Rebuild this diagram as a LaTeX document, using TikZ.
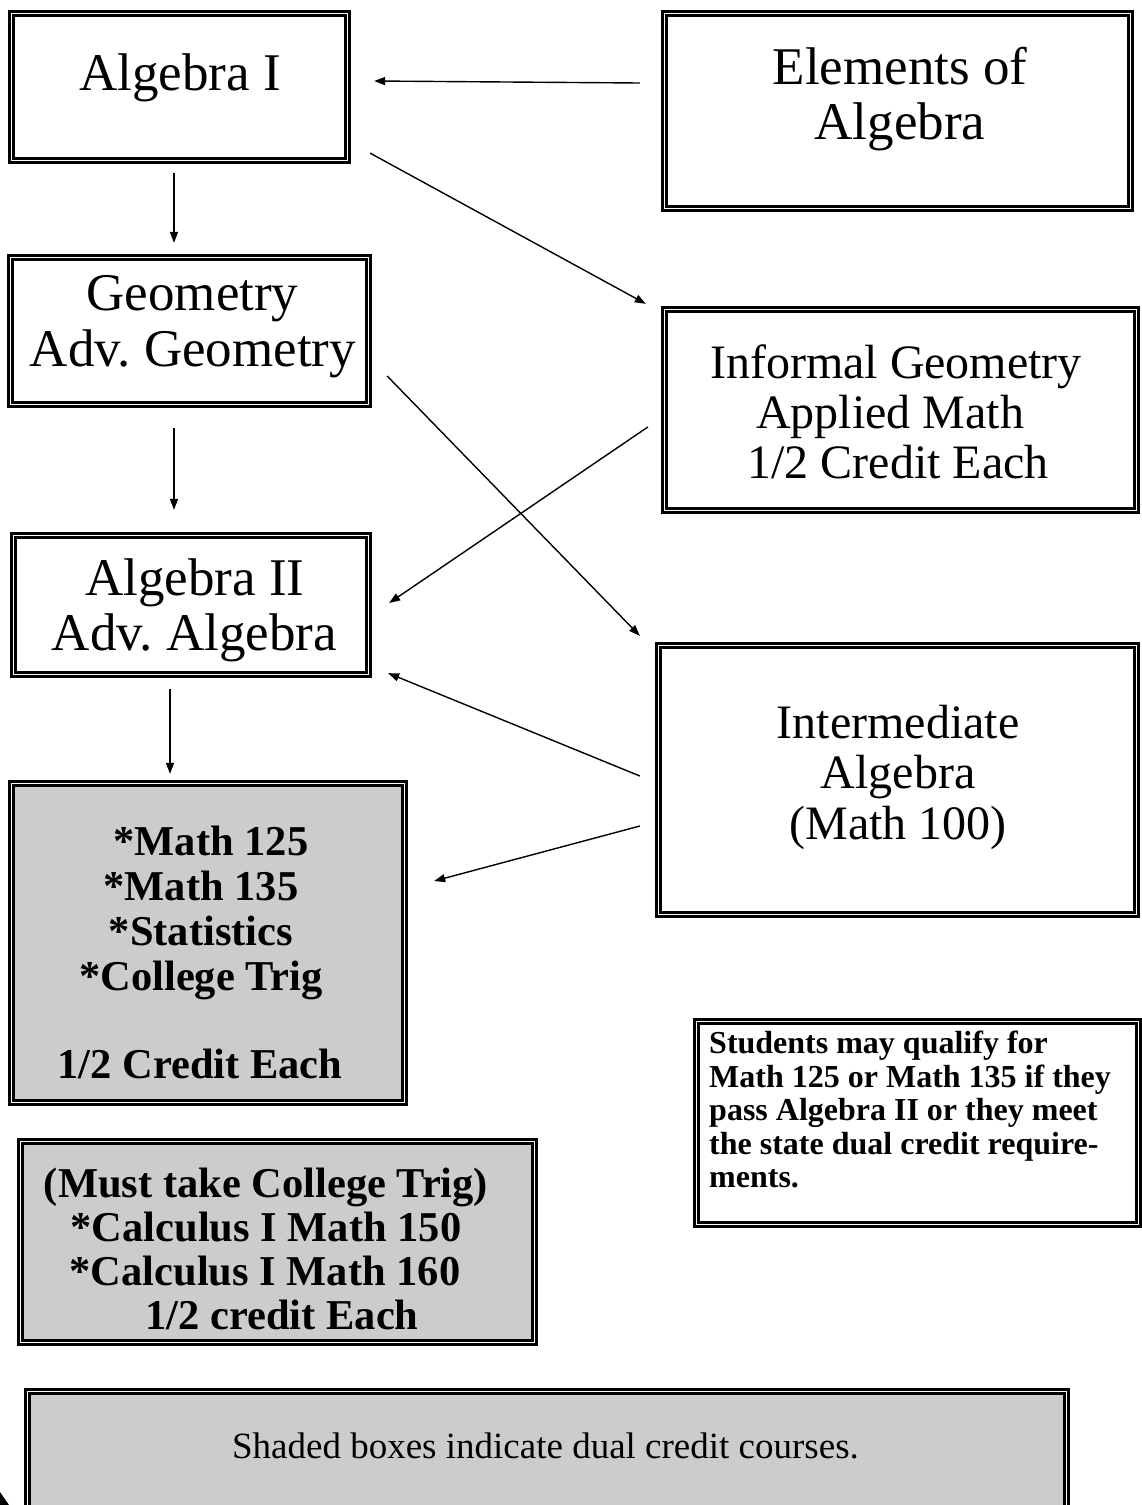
\documentclass[tikz,border=0pt]{standalone}
\usepackage{fontspec}
\setmainfont{Liberation Serif}
\usetikzlibrary{arrows.meta,calc}
\definecolor{shade}{HTML}{CCCCCC}
\tikzset{
  box/.style={draw=black, line width=2.3pt, double=white, double distance=1.8pt, inner sep=0pt, rectangle},
  shadedbox/.style={box, fill=shade},
  arr/.style={line width=1.4pt, -{Triangle[length=11pt,width=8pt]}},
  big/.style={font=\fontsize{53}{57}\selectfont, anchor=base, inner sep=0pt},
  mid/.style={font=\fontsize{48}{50}\selectfont, anchor=base, inner sep=0pt},
  bold/.style={font=\fontsize{42.5}{45}\selectfont\bfseries, anchor=base, inner sep=0pt},
  boldc/.style={font=\fontsize{42.5}{44}\selectfont\bfseries, anchor=base, inner sep=0pt},
  note/.style={font=\fontsize{32}{33}\selectfont\bfseries, anchor=base west, inner sep=0pt},
  legend/.style={font=\fontsize{37}{40}\selectfont, anchor=base, inner sep=0pt},
}
\begin{document}
\begin{tikzpicture}[x=1pt,y=-1pt]
\useasboundingbox (0,0) rectangle (1142,1505);
% boxes
\node[box, minimum width=336, minimum height=147] (alg1) at (179.5,87) {};
\node[box, minimum width=466, minimum height=195] (elem) at (897.5,111) {};
\node[box, minimum width=358, minimum height=147] (geom) at (189.5,331) {};
\node[box, minimum width=472, minimum height=201] (infgeom) at (900.5,410) {};
\node[box, minimum width=355, minimum height=139] (alg2) at (191,605) {};
\node[box, minimum width=478, minimum height=269] (interm) at (897.5,780) {};
\node[shadedbox, minimum width=393, minimum height=319] (m125) at (208,943) {};
\node[shadedbox, minimum width=514, minimum height=201] (calc) at (277.5,1242) {};
\node[box, minimum width=442, minimum height=203] (stud) at (917.5,1123) {};
\node[shadedbox, minimum width=1039, minimum height=135] (shaded) at (547,1459) {};
% texts
\node[big] (t1) at (180,90) {Algebra I};
\node[big] (t2a) at (900,84) {Elements of};
\node[big] (t2b) at (900,139) {Algebra};
\node[big] (t3a) at (192.5,310) {Geometry};
\node[big] (t3b) at (193,366) {Adv.\ Geometry};
\node[mid] (t4a) at (896,378) {Informal Geometry};
\node[mid] (t4b) at (890,428) {Applied Math};
\node[mid] (t4c) at (898,478) {1/2 Credit Each};
\node[big] (t5a) at (195,595) {Algebra II};
\node[big] (t5b) at (194.5,650) {Adv.\ Algebra};
\node[mid] (t6a) at (898,738) {Intermediate};
\node[mid] (t6b) at (898,788) {Algebra};
\node[mid] (t6c) at (898,839) {(Math 100)};
\node[bold] (t7a) at (211,855) {*Math 125};
\node[bold] (t7b) at (201,900) {*Math 135};
\node[bold] (t7c) at (201,945) {*Statistics};
\node[bold] (t7d) at (201,990) {*College Trig};
\node[bold] (t7e) at (200,1078) {1/2 Credit Each};
\node[boldc] (t8a) at (266,1197) {(Must take College Trig)};
\node[boldc] (t8b) at (266,1241) {*Calculus I Math 150};
\node[boldc] (t8c) at (265,1285) {*Calculus I Math 160};
\node[boldc] (t8d) at (282,1329) {1/2 credit Each};
\node[note] (t9a) at (709,1053) {Students may qualify for};
\node[note] (t9b) at (709,1087) {Math 125 or Math 135 if they};
\node[note] (t9c) at (709,1120) {pass Algebra II or they meet};
\node[note] (t9d) at (709,1154) {the state dual credit require-};
\node[note] (t9e) at (709,1187) {ments.};
\node[legend] (t10) at (545.5,1458) {Shaded boxes indicate dual credit courses.};
% connectors
\draw[arr] ($(elem.west)+(-23.5,-28)$) -- ($(alg1.east)+(25.5,-6)$);
\draw[arr] ($(alg1.south east)+(21.5,-8.5)$) -- ($(infgeom.north west)+(-17.5,-4.5)$);
\draw[arr] ($(alg1.south)+(-5.5,11.5)$) -- ($(geom.north)+(-15.5,-13.5)$);
\draw[arr] ($(geom.south)+(-15.5,22.5)$) -- ($(alg2.north)+(-17,-24.5)$);
\draw[arr] ($(geom.east)+(17.5,45)$) -- ($(interm.north west)+(-17.5,-8.5)$);
\draw[arr] ($(infgeom.west)+(-15.5,17)$) -- ($(alg2.east)+(19.5,-2)$);
\draw[arr] ($(interm.west)+(-17.5,-4)$) -- ($(alg2.south east)+(18.5,-2.5)$);
\draw[arr] ($(alg2.south)+(-21,13.5)$) -- ($(m125.north)+(-38,-8.5)$);
\draw[arr] ($(interm.west)+(-17.5,46)$) -- ($(m125.east)+(28.5,-62)$);
% corner mark
\fill[black] (0,1492) -- (9,1505) -- (0,1505) -- cycle;
\end{tikzpicture}
\end{document}
